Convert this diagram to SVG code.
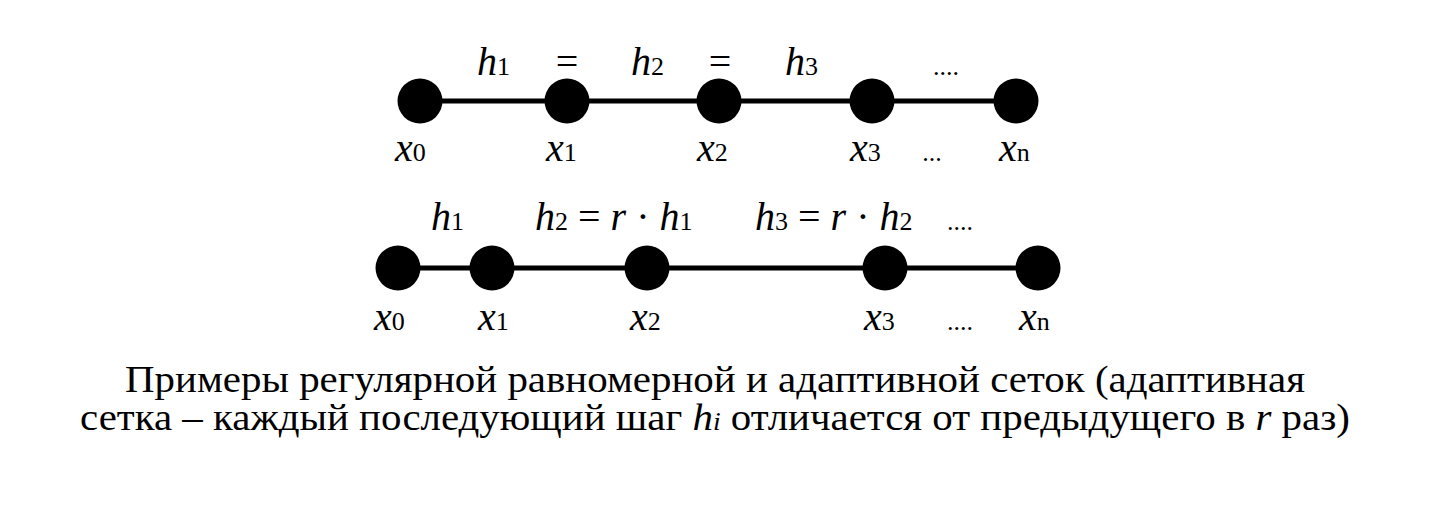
<svg xmlns="http://www.w3.org/2000/svg" width="1432" height="510" viewBox="0 0 1432 510">
<style>
text{font-family:"Liberation Serif",Tinos,"DejaVu Serif","Noto Serif","Times New Roman",Times,serif;fill:#000}
.lb{font-size:40px}
.i{font-style:italic}
.s{font-size:26px;font-style:normal}
.cap{font-size:37px}
.ln{stroke:#000;stroke-width:5}
.nd{fill:#000}
</style>
<rect width="1432" height="510" fill="#fff"/>
<g id="connectors">
<line class="ln" x1="420" y1="101" x2="1016" y2="101"/>
<line class="ln" x1="398" y1="268" x2="1038" y2="268"/>
</g>
<g id="top-row">
<g id="t0"><ellipse class="nd" cx="420" cy="101" rx="22.5" ry="22.5"/></g>
<g id="t1"><ellipse class="nd" cx="567" cy="101" rx="22.5" ry="22.5"/></g>
<g id="t2"><ellipse class="nd" cx="719" cy="101" rx="22.5" ry="22.5"/></g>
<g id="t3"><ellipse class="nd" cx="872" cy="101" rx="22.5" ry="22.5"/></g>
<g id="tn"><ellipse class="nd" cx="1016" cy="101" rx="22.5" ry="22.5"/></g>
<text class="lb" x="477" y="75"><tspan class="i">h</tspan><tspan class="s">1</tspan></text>
<text class="lb" x="567" y="75" text-anchor="middle">=</text>
<text class="lb" x="631" y="75"><tspan class="i">h</tspan><tspan class="s">2</tspan></text>
<text class="lb" x="720" y="75" text-anchor="middle">=</text>
<text class="lb" x="785" y="75"><tspan class="i">h</tspan><tspan class="s">3</tspan></text>
<text class="s" x="946" y="75" text-anchor="middle">....</text>
<text class="lb" x="395" y="161"><tspan class="i">x</tspan><tspan class="s">0</tspan></text>
<text class="lb" x="546" y="161"><tspan class="i">x</tspan><tspan class="s">1</tspan></text>
<text class="lb" x="697" y="161"><tspan class="i">x</tspan><tspan class="s">2</tspan></text>
<text class="lb" x="850" y="161"><tspan class="i">x</tspan><tspan class="s">3</tspan></text>
<text class="s" x="932" y="161" text-anchor="middle">...</text>
<text class="lb" x="999" y="161"><tspan class="i">x</tspan><tspan class="s">n</tspan></text>
</g>
<g id="bottom-row">
<g id="b0"><ellipse class="nd" cx="398" cy="268" rx="22.5" ry="22.5"/></g>
<g id="b1"><ellipse class="nd" cx="492" cy="268" rx="22.5" ry="22.5"/></g>
<g id="b2"><ellipse class="nd" cx="647" cy="268" rx="22.5" ry="22.5"/></g>
<g id="b3"><ellipse class="nd" cx="885" cy="268" rx="22.5" ry="22.5"/></g>
<g id="bn"><ellipse class="nd" cx="1038" cy="268" rx="22.5" ry="22.5"/></g>
<text class="lb" x="431" y="230"><tspan class="i">h</tspan><tspan class="s">1</tspan></text>
<text class="lb" x="535" y="230"><tspan class="i">h</tspan><tspan class="s">2</tspan><tspan> = </tspan><tspan class="i">r</tspan><tspan> · </tspan><tspan class="i">h</tspan><tspan class="s">1</tspan></text>
<text class="lb" x="755" y="230"><tspan class="i">h</tspan><tspan class="s">3</tspan><tspan> = </tspan><tspan class="i">r</tspan><tspan> · </tspan><tspan class="i">h</tspan><tspan class="s">2</tspan></text>
<text class="s" x="960" y="230" text-anchor="middle">....</text>
<text class="lb" x="374" y="330"><tspan class="i">x</tspan><tspan class="s">0</tspan></text>
<text class="lb" x="478" y="330"><tspan class="i">x</tspan><tspan class="s">1</tspan></text>
<text class="lb" x="630" y="330"><tspan class="i">x</tspan><tspan class="s">2</tspan></text>
<text class="lb" x="864" y="330"><tspan class="i">x</tspan><tspan class="s">3</tspan></text>
<text class="s" x="960" y="330" text-anchor="middle">....</text>
<text class="lb" x="1019" y="330"><tspan class="i">x</tspan><tspan class="s">n</tspan></text>
</g>
<g id="caption">
<text class="cap" x="125" y="392" textLength="1180" lengthAdjust="spacingAndGlyphs">Примеры регулярной равномерной и адаптивной сеток (адаптивная</text>
<text class="cap" x="80" y="430" textLength="1270" lengthAdjust="spacingAndGlyphs">сетка – каждый последующий шаг <tspan class="i">h</tspan><tspan class="i" font-size="25">i</tspan> отличается от предыдущего в <tspan class="i">r</tspan> раз)</text>
</g>
</svg>
